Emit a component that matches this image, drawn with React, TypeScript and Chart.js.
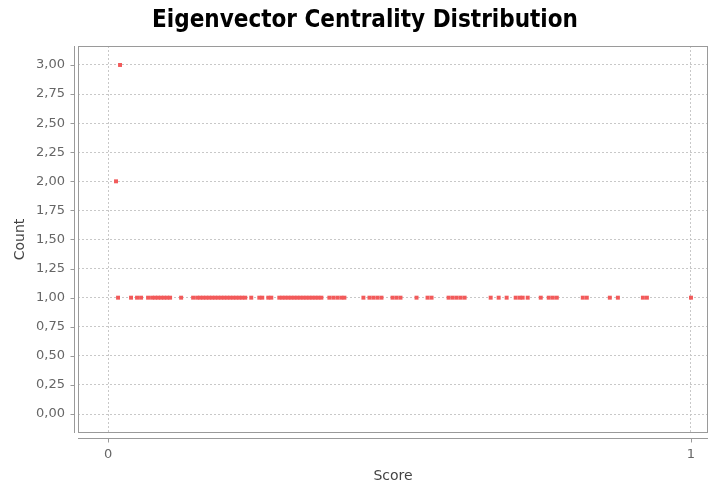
import { useEffect, useRef } from 'react';
import { Chart, registerables } from 'chart.js';

Chart.register(...registerables);

const TITLE = 'Eigenvector Centrality Distribution';
const X_TITLE = 'Score';
const Y_TITLE = 'Count';

const xTicks = [0, 1];
const xTickLabels = ['0', '1'];
const yTicks = [0, 0.25, 0.5, 0.75, 1, 1.25, 1.5, 1.75, 2, 2.25, 2.5, 2.75, 3];
const yTickLabels = ['0,00', '0,25', '0,50', '0,75', '1,00', '1,25', '1,50', '1,75', '2,00', '2,25', '2,50', '2,75', '3,00'];

// scores having a count of 1
const scoresCount1 = [
  0.0172, 0.0395, 0.0498, 0.0567, 0.0687, 0.0756, 0.0808, 0.0859, 0.0911, 0.0962,
  0.1014, 0.1065, 0.1254, 0.146, 0.1529, 0.1581, 0.1632, 0.1684, 0.1735, 0.1787,
  0.1838, 0.189, 0.1942, 0.1993, 0.2045, 0.2096, 0.2148, 0.2199, 0.2251, 0.2302,
  0.2354, 0.2457, 0.2595, 0.2646, 0.2749, 0.2801, 0.2938, 0.299, 0.3041, 0.3093,
  0.3144, 0.3196, 0.3247, 0.3299, 0.3351, 0.3402, 0.3454, 0.3505, 0.3557, 0.3608,
  0.366, 0.3797, 0.3866, 0.3935, 0.4003, 0.4055, 0.4381, 0.4485, 0.4553, 0.4622,
  0.4691, 0.488, 0.4948, 0.5017, 0.5292, 0.5481, 0.555, 0.5842, 0.5911, 0.5979,
  0.6048, 0.6117, 0.6564, 0.6701, 0.6838, 0.6993, 0.7062, 0.7113, 0.7199, 0.7423,
  0.756, 0.7629, 0.7698, 0.8144, 0.8213, 0.8608, 0.8746, 0.9175, 0.9244, 1.0,
];
// scores having a count of 2
const scoresCount2 = [0.0137];
// scores having a count of 3
const scoresCount3 = [0.0206];

const AXIS_COLOR = '#9a9a9a';
const GRID_COLOR = '#c8c8c8';
const POINT_COLOR = '#f25a5a';

const framePlugin = {
  id: 'jfreeFrame',
  afterDraw(chart: any) {
    const ctx = chart.ctx as CanvasRenderingContext2D;
    const { left, top, right, bottom } = chart.chartArea;
    const xs = chart.scales.x;
    const ys = chart.scales.y;
    ctx.save();
    ctx.strokeStyle = AXIS_COLOR;
    ctx.lineWidth = 1;
    ctx.strokeRect(left + 0.5, top + 0.5, right - left - 1, bottom - top - 1);
    const ax = left - 4 + 0.5;
    ctx.beginPath();
    ctx.moveTo(ax, top);
    ctx.lineTo(ax, bottom);
    yTicks.forEach((v) => {
      const py = Math.round(ys.getPixelForValue(v)) + 0.5;
      ctx.moveTo(ax - 4, py);
      ctx.lineTo(ax, py);
    });
    const ay = bottom + 5 + 0.5;
    ctx.moveTo(left, ay);
    ctx.lineTo(right, ay);
    xTicks.forEach((v) => {
      const px = Math.round(xs.getPixelForValue(v)) + 0.5;
      ctx.moveTo(px, ay);
      ctx.lineTo(px, ay + 4);
    });
    ctx.stroke();
    ctx.fillStyle = '#000';
    ctx.font = 'bold 24px "DejaVu Sans Condensed", "DejaVu Sans", sans-serif';
    ctx.textAlign = 'center';
    ctx.textBaseline = 'middle';
    ctx.fillText(TITLE, 365, 21);
    ctx.restore();
  },
};

export default function App() {
  const ref = useRef<HTMLCanvasElement | null>(null);
  useEffect(() => {
    document.body.style.margin = '0';
    const canvas = ref.current;
    if (!canvas) return;
    const points = [
      ...scoresCount1.map((x) => ({ x, y: 1 })),
      ...scoresCount2.map((x) => ({ x, y: 2 })),
      ...scoresCount3.map((x) => ({ x, y: 3 })),
    ];
    const tickFont = { family: '"DejaVu Sans", sans-serif', size: 13 };
    const titleFont = { family: '"DejaVu Sans", sans-serif', size: 14 };
    const chart = new Chart(canvas, {
      type: 'scatter',
      data: {
        datasets: [
          {
            label: 'Count',
            data: points,
            pointStyle: 'rect',
            pointRadius: 2.8,
            pointBackgroundColor: POINT_COLOR,
            pointBorderWidth: 0,
            backgroundColor: POINT_COLOR,
            borderWidth: 0,
          },
        ],
      },
      options: {
        responsive: false,
        animation: false,
        layout: { padding: { top: 46, right: 0, left: 0, bottom: 0 } },
        plugins: {
          legend: { display: false },
          tooltip: { enabled: false },
          title: { display: false },
        },
        scales: {
          x: {
            type: 'linear',
            min: -0.0515,
            max: 1.0292,
            afterBuildTicks: (s: any) => {
              s.ticks = xTicks.map((v) => ({ value: v }));
            },
            afterFit: (s: any) => {
              s.height = 55;
              s.paddingLeft = 0;
              s.paddingRight = 0;
            },
            grid: { color: GRID_COLOR, drawTicks: false, lineWidth: 1 },
            border: { display: false, dash: [2, 2] },
            ticks: {
              padding: 14,
              color: '#666',
              font: tickFont,
              autoSkip: false,
              maxRotation: 0,
              callback: (_v: any, i: number) => xTickLabels[i],
            },
            title: {
              display: true,
              text: X_TITLE,
              color: '#444',
              font: titleFont,
              padding: { top: 0, bottom: 3 },
            },
          },
          y: {
            type: 'linear',
            min: -0.163,
            max: 3.163,
            afterBuildTicks: (s: any) => {
              s.ticks = yTicks.map((v) => ({ value: v }));
            },
            afterFit: (s: any) => {
              s.width = 78;
              s.paddingTop = 0;
              s.paddingBottom = 0;
            },
            grid: { color: GRID_COLOR, drawTicks: false, lineWidth: 1 },
            border: { display: false, dash: [2, 2] },
            ticks: {
              padding: 13,
              color: '#666',
              font: tickFont,
              autoSkip: false,
              callback: (_v: any, i: number) => yTickLabels[i],
            },
            title: {
              display: true,
              text: Y_TITLE,
              color: '#444',
              font: titleFont,
              padding: { top: 12, bottom: 0 },
            },
          },
        },
      },
      plugins: [framePlugin],
    });
    return () => chart.destroy();
  }, []);
  return <canvas ref={ref} width={712} height={488} style={{ display: 'block', width: 712, height: 488 }} />;
}
